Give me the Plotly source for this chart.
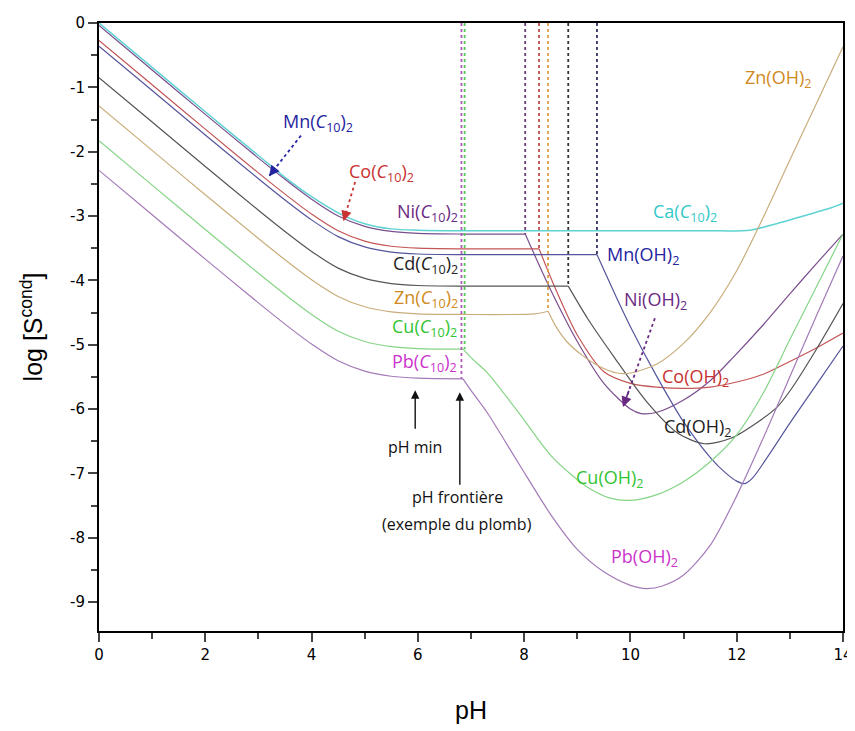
import plotly.graph_objects as go

# ---------------- data ----------------
ca_ph = [0, 1, 2, 3, 3.5, 4, 4.5, 5, 5.5, 6, 7, 8, 9, 10, 11, 11.5, 12.25, 12.75, 13.25, 13.75, 14]
ca_s = [0.0, -0.69, -1.38, -2.06, -2.40, -2.70, -2.95, -3.12, -3.20, -3.22, -3.23, -3.23, -3.23, -3.23, -3.23, -3.23, -3.22, -3.12, -3.0, -2.88, -2.8]

ni_ph = [0, 1, 2, 3, 3.5, 4, 4.5, 5, 5.5, 6, 6.85, 8.02]
ni_s = [-0.04, -0.73, -1.42, -2.10, -2.43, -2.74, -3.0, -3.16, -3.24, -3.27, -3.28, -3.28]
ni_oh_ph = [8.02, 8.5, 9.0, 9.5, 10.0, 10.2, 10.5, 11.0, 11.5, 11.93, 12.5, 13.0, 13.5, 14]
ni_oh_s = [-3.28, -4.15, -4.95, -5.6, -6.0, -6.07, -6.05, -5.86, -5.56, -5.2, -4.69, -4.21, -3.74, -3.28]

co_ph = [0, 1, 2, 3, 3.5, 4, 4.5, 5, 5.5, 6, 6.85, 8.28]
co_s = [-0.27, -0.96, -1.65, -2.33, -2.66, -2.97, -3.23, -3.39, -3.47, -3.50, -3.51, -3.51]
co_oh_ph = [8.28, 8.6, 9.0, 9.5, 10.0, 10.5, 11.0, 11.5, 12.0, 12.5, 13.0, 13.5, 14]
co_oh_s = [-3.51, -4.15, -4.85, -5.42, -5.6, -5.66, -5.68, -5.66, -5.58, -5.46, -5.26, -5.05, -4.82]

mn_ph = [0, 1, 2, 3, 3.5, 4, 4.5, 5, 5.5, 6, 6.85, 9.37]
mn_s = [-0.36, -1.05, -1.74, -2.42, -2.75, -3.06, -3.32, -3.48, -3.56, -3.59, -3.60, -3.60]
mn_oh_ph = [9.37, 9.7, 10.0, 10.5, 11.0, 11.5, 11.8, 12.0, 12.15, 12.3, 12.6, 13.0, 13.5, 14]
mn_oh_s = [-3.60, -4.2, -4.72, -5.5, -6.2, -6.75, -7.0, -7.12, -7.16, -7.07, -6.72, -6.22, -5.62, -5.02]

cd_ph = [0, 1, 2, 3, 3.5, 4, 4.5, 5, 5.5, 6, 6.85, 8.83]
cd_s = [-0.85, -1.54, -2.23, -2.91, -3.24, -3.55, -3.81, -3.97, -4.05, -4.08, -4.09, -4.09]
cd_oh_ph = [8.83, 9.2, 9.7, 10.3, 10.9, 11.4, 11.9, 12.4, 12.76, 13.0, 13.5, 14]
cd_oh_s = [-4.09, -4.6, -5.2, -5.88, -6.38, -6.54, -6.45, -6.2, -5.97, -5.72, -5.07, -4.36]

zn_ph = [0, 1, 2, 3, 3.5, 4, 4.5, 5, 5.5, 6, 6.85, 8.2, 8.45]
zn_s = [-1.29, -1.98, -2.67, -3.35, -3.68, -3.99, -4.25, -4.41, -4.49, -4.52, -4.53, -4.52, -4.48]
zn_oh_ph = [8.45, 8.6, 8.8, 9.1, 9.4, 9.75, 10.0, 10.5, 11.0, 11.5, 12.0, 12.5, 13.0, 13.5, 14]
zn_oh_s = [-4.48, -4.72, -4.95, -5.17, -5.33, -5.44, -5.44, -5.3, -4.98, -4.5, -3.85, -3.02, -2.13, -1.25, -0.37]

cu_ph = [0, 1, 2, 3, 3.5, 4, 4.5, 5, 5.5, 6, 6.85]
cu_s = [-1.83, -2.52, -3.21, -3.89, -4.22, -4.53, -4.79, -4.95, -5.03, -5.06, -5.07]
cu_oh_ph = [6.85, 7.0, 7.3, 7.9, 8.5, 8.9, 9.2, 9.6, 10.0, 10.5, 11.0, 11.5, 12.0, 12.5, 13.0, 13.5, 14]
cu_oh_s = [-5.07, -5.2, -5.43, -6.06, -6.72, -7.03, -7.22, -7.38, -7.42, -7.33, -7.13, -6.82, -6.4, -5.75, -4.92, -4.1, -3.28]

pb_ph = [0, 1, 2, 3, 3.5, 4, 4.5, 5, 5.5, 6, 6.85]
pb_s = [-2.29, -2.98, -3.67, -4.35, -4.68, -4.99, -5.25, -5.41, -5.49, -5.52, -5.53]
pb_oh_ph = [6.85, 7.0, 7.3, 7.9, 8.5, 9.0, 9.5, 10.0, 10.3, 10.6, 11.0, 11.5, 12.0, 12.5, 13.0, 13.5, 14]
pb_oh_s = [-5.53, -5.71, -6.05, -6.85, -7.64, -8.18, -8.53, -8.74, -8.79, -8.75, -8.58, -8.12, -7.35, -6.45, -5.5, -4.55, -3.62]

# vertical "pH frontiere" dotted lines: pH, lower end
front_ph = [6.82, 6.88, 8.02, 8.28, 8.45, 8.83, 9.37]
front_bot = [-5.53, -5.07, -3.28, -3.51, -4.48, -4.09, -3.60]

x_ticks = [0, 2, 4, 6, 8, 10, 12, 14]
x_ticktext = ["0", "2", "4", "6", "8", "10", "12", "14"]
y_ticks = [0, -1, -2, -3, -4, -5, -6, -7, -8, -9]
y_ticktext = ["0", "-1", "-2", "-3", "-4", "-5", "-6", "-7", "-8", "-9"]

# ---------------- styles ----------------
C_CA = "#5fd3d3"
C_NI = "#7b4f8e"
C_CO = "#c45656"
C_MN = "#55559c"
C_CD = "#555555"
C_ZN = "#c9ad7c"
C_CU = "#86d486"
C_PB = "#a47ab8"

LBL_MN = "#2424a0"
LBL_CO = "#c83232"
LBL_NI = "#6a2a82"
LBL_CD = "#222222"
LBL_ZN = "#d08a22"
LBL_CU = "#33c433"
LBL_PB = "#cc33cc"
LBL_CA = "#33c8c8"

fig = go.Figure()

def add(x, y, color, w=1.2):
    fig.add_trace(go.Scatter(x=x, y=y, mode="lines",
                             line=dict(color=color, width=w, shape="spline", smoothing=0.8),
                             showlegend=False, hoverinfo="skip"))

add(ca_ph, ca_s, C_CA, 1.5)
add(ni_ph, ni_s, C_NI); add(ni_oh_ph, ni_oh_s, C_NI)
add(co_ph, co_s, C_CO); add(co_oh_ph, co_oh_s, C_CO)
add(mn_ph, mn_s, C_MN); add(mn_oh_ph, mn_oh_s, C_MN)
add(cd_ph, cd_s, C_CD); add(cd_oh_ph, cd_oh_s, C_CD)
add(zn_ph, zn_s, C_ZN); add(zn_oh_ph, zn_oh_s, C_ZN)
add(cu_ph, cu_s, C_CU); add(cu_oh_ph, cu_oh_s, C_CU)
add(pb_ph, pb_s, C_PB); add(pb_oh_ph, pb_oh_s, C_PB)

front_col = ["#b05ab8", "#55c855", "#6a3a7a", "#c04a4a", "#e0a040", "#333333", "#33336a"]
for p, b, c in zip(front_ph, front_bot, front_col):
    fig.add_trace(go.Scatter(x=[p, p], y=[0, b], mode="lines", line=dict(color=c, width=1.8, dash="dot"),
                             showlegend=False, hoverinfo="skip"))

FONT = "Open Sans, Noto Sans, sans-serif"

def lbl(x, y, text, color, size=18, xanchor="center"):
    fig.add_annotation(x=x, y=y, text=text, showarrow=False, xanchor=xanchor,
                       font=dict(family=FONT, size=size, color=color))

def c10(m):
    return m + "(<i>C</i><sub>10</sub>)<sub>2</sub>"

def oh(m):
    return m + "(OH)<sub>2</sub>"

lbl(4.12, -1.54, c10("Mn"), LBL_MN)
lbl(5.31, -2.32, c10("Co"), LBL_CO)
lbl(6.80, -2.95, c10("Ni"), LBL_NI, xanchor="right")
lbl(6.80, -3.76, c10("Cd"), LBL_CD, xanchor="right")
lbl(6.80, -4.28, c10("Zn"), LBL_ZN, xanchor="right")
lbl(6.78, -4.74, c10("Cu"), LBL_CU, xanchor="right")
lbl(6.78, -5.27, c10("Pb"), LBL_PB, xanchor="right")
lbl(11.03, -2.94, c10("Ca"), LBL_CA)
lbl(12.78, -0.86, oh("Zn"), LBL_ZN)
lbl(10.24, -3.61, oh("Mn"), LBL_MN)
lbl(10.48, -4.31, oh("Ni"), LBL_NI)
lbl(11.22, -5.51, oh("Co"), LBL_CO)
lbl(11.27, -6.28, oh("Cd"), LBL_CD)
lbl(9.60, -7.08, oh("Cu"), LBL_CU)
lbl(10.27, -8.30, oh("Pb"), LBL_PB)
lbl(5.95, -6.59, "pH min", "#111111", 16)
lbl(6.74, -7.37, "pH frontière", "#111111", 16)
lbl(6.74, -7.79, "(exemple du plomb)", "#111111", 16)

# dotted pointer lines with arrow heads
pointers = [
    (3.80, -1.75, 3.20, -2.38, LBL_MN),
    (4.82, -2.47, 4.60, -3.08, LBL_CO),
    (10.46, -4.59, 9.86, -5.97, LBL_NI),
]
for x0, y0, x1, y1, c in pointers:
    fig.add_shape(type="line", x0=x0, y0=y0, x1=x1, y1=y1, line=dict(color=c, width=1.8, dash="dot"))
    fig.add_annotation(x=x1, y=y1, ax=x1 + (x0 - x1) * 0.2, ay=y1 + (y0 - y1) * 0.2, axref="x", ayref="y",
                       xref="x", yref="y", text="", showarrow=True, arrowhead=2, arrowsize=1.3, arrowwidth=1.6,
                       arrowcolor=c)

# solid black arrows
fig.add_annotation(x=5.95, y=-5.71, ax=5.95, ay=-6.33, axref="x", ayref="y", text="", showarrow=True,
                   arrowhead=2, arrowsize=1.2, arrowwidth=1.4, arrowcolor="#111111")
fig.add_annotation(x=6.79, y=-5.74, ax=6.79, ay=-7.2, axref="x", ayref="y", text="", showarrow=True,
                   arrowhead=2, arrowsize=1.2, arrowwidth=1.4, arrowcolor="#111111")

TITLE_FONT = "Liberation Sans Narrow, Liberation Sans, sans-serif"
fig.update_layout(
    width=847, height=723,
    margin=dict(l=91, r=12, t=15, b=100),
    paper_bgcolor="white", plot_bgcolor="white",
    xaxis=dict(range=[0, 14], tickvals=x_ticks, ticktext=x_ticktext, ticks="outside", ticklen=9, tickwidth=2,
               minor=dict(dtick=1, ticks="outside", ticklen=6, tickwidth=1.5),
               showline=True, linewidth=2, linecolor="black", mirror=True, showgrid=False, zeroline=False,
               automargin=False,
               tickfont=dict(family="DejaVu Sans", size=15, color="black"),
               title=dict(text="pH", font=dict(family=TITLE_FONT, size=25, color="black"), standoff=38)),
    yaxis=dict(range=[-9.45, 0], tickvals=y_ticks, ticktext=y_ticktext, ticks="outside", ticklen=9, tickwidth=2,
               minor=dict(dtick=0.5, ticks="outside", ticklen=6, tickwidth=1.5),
               showline=True, linewidth=2, linecolor="black", mirror=True, showgrid=False, zeroline=False,
               automargin=False,
               tickfont=dict(family="DejaVu Sans", size=15, color="black"),
               title=dict(text="log [S<sup>cond</sup>]", font=dict(family=TITLE_FONT, size=25, color="black"),
                          standoff=20)),
)

fig.write_html("out.html")
